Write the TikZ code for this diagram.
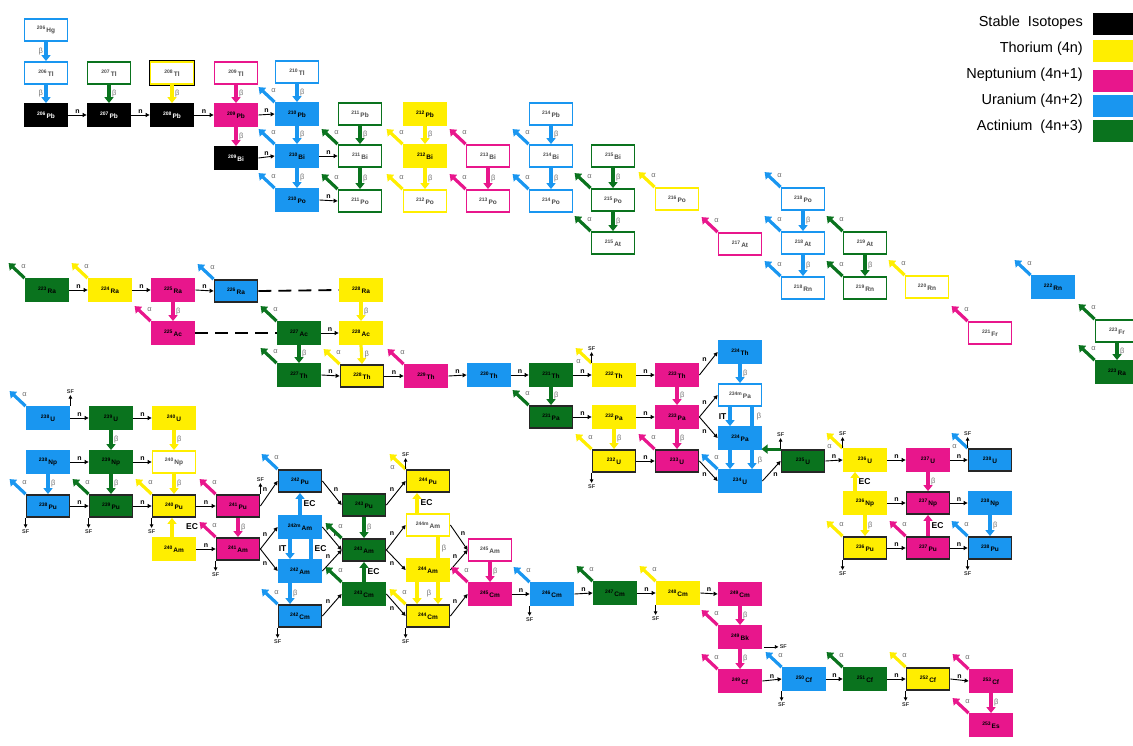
\documentclass[tikz,border=0pt]{standalone}
\usepackage{fontspec}
\setmainfont{Liberation Sans}
\usetikzlibrary{arrows.meta,calc}
\pgfdeclarelayer{bg}
\pgfsetlayers{bg,main}
\definecolor{thc}{RGB}{255,238,0}
\definecolor{npc}{RGB}{232,22,140}
\definecolor{ucc}{RGB}{25,150,240}
\definecolor{acc}{RGB}{10,115,30}
\newcommand{\iso}[2]{\raisebox{1.8pt}{\fontsize{5}{5}\selectfont#1}\,\raisebox{-1.6pt}{#2}}
\newcommand{\alf}[2]{\draw[dec,#2] (#1.north west) -- ++(-16,-15); \node[glab] at ($(#1.north west)+(-1,-12)$) {α};}
\newcommand{\alfb}[2]{\draw[dec,#2] (#1.north west) -- ++(-16,-15); \node[glab] at ($(#1.north west)+(-13,-2)$) {α};}
\newcommand{\sfu}[1]{\draw[sfar] (#1) -- ++(0,-11) node[above,sflab]{SF};}
\newcommand{\sfd}[1]{\draw[sfar] (#1) -- ++(0,10) node[below,sflab]{SF};}
\newcommand{\nn}[3][above]{\draw[narr] (#2) -- (#3) node[midway,#1,nlab]{n};}
\newcommand{\dk}[4][right]{\draw[dec,#2] (#3) -- (#4) node[midway,#1,glab]{β};}
\begin{document}
\begin{tikzpicture}[x=1pt,y=-1pt,
  box/.style={rectangle, minimum width=43pt, minimum height=22pt, inner sep=0pt, line width=1.8pt, font=\bfseries\fontsize{6.5}{7}\selectfont},
  stb/.style={box, fill=black, draw=black, text=white},
  fil/.style={box, fill=#1, draw=#1, text=black},
  otl/.style={box, fill=white, draw=#1, text=black!70},
  fkb/.style={box, fill=#1, draw=black!85, text=black},
  dec/.style={line width=3.2pt, -{Triangle[width=9pt,length=6pt]}},
  narr/.style={line width=0.9pt, black, -{Triangle[width=4pt,length=4pt]}},
  sfar/.style={line width=0.8pt, black, -{Triangle[width=3.5pt,length=3.5pt]}},
  glab/.style={text=black!55, font=\fontsize{7.5}{8}\selectfont, inner sep=1.5pt},
  nlab/.style={text=black, font=\bfseries\fontsize{7}{7}\selectfont, inner sep=1.5pt},
  sflab/.style={font=\bfseries\fontsize{5.5}{6}\selectfont, text=black!80, inner sep=1pt},
  eclab/.style={text=black, font=\bfseries\fontsize{8.5}{9}\selectfont, inner sep=2pt},
  leg/.style={font=\fontsize{14.5}{16}\selectfont, anchor=east, inner sep=0pt},
  sw/.style={minimum width=42pt, minimum height=22pt, inner sep=0pt, anchor=west}]
\useasboundingbox (0,0) rectangle (1133,746);
\clip (0,0) rectangle (1133,746);
% ---------- legend
\node[leg] (l1) at (1083,23) {Stable\ \ Isotopes};
\node[leg] (l2) at (1083,49) {Thorium (4n)};
\node[leg] (l3) at (1083,75) {Neptunium (4n+1)};
\node[leg] (l4) at (1083,101) {Uranium (4n+2)};
\node[leg] (l5) at (1083,127) {Actinium\ \ (4n+3)};
\node[sw, fill=black] (s1) at (1093,24) {};
\node[sw, fill=thc] (s2) at (1093,51) {};
\node[sw, fill=npc] (s3) at (1093,81) {};
\node[sw, fill=ucc] (s4) at (1093,106) {};
\node[sw, fill=acc] (s5) at (1093,131) {};
% ---------- top region nodes
\node[otl=ucc] (Hg206) at (46,30) {\iso{206}{Hg}};
\node[otl=ucc] (Tl206) at (46,73) {\iso{206}{Tl}};
\node[stb] (Pb206) at (46,115) {\iso{206}{Pb}};
\node[otl=acc] (Tl207) at (109,73) {\iso{207}{Tl}};
\node[stb] (Pb207) at (109,115) {\iso{207}{Pb}};
\node[otl=thc, preaction={draw=black, line width=3.4pt}] (Tl208) at (172,73) {\iso{208}{Tl}};
\node[stb] (Pb208) at (172,115) {\iso{208}{Pb}};
\node[otl=npc] (Tl209) at (236,73) {\iso{209}{Tl}};
\node[fil=npc] (Pb209) at (236,115) {\iso{209}{Pb}};
\node[stb] (Bi209) at (236,158) {\iso{209}{Bi}};
\node[otl=ucc] (Tl210) at (297,72) {\iso{210}{Tl}};
\node[fil=ucc] (Pb210) at (297,114) {\iso{210}{Pb}};
\node[fil=ucc] (Bi210) at (297,156) {\iso{210}{Bi}};
\node[fil=ucc] (Po210) at (297,200) {\iso{210}{Po}};
\node[otl=acc] (Pb211) at (360,114) {\iso{211}{Pb}};
\node[otl=acc] (Bi211) at (360,156) {\iso{211}{Bi}};
\node[otl=acc] (Po211) at (360,201) {\iso{211}{Po}};
\node[fil=thc] (Pb212) at (425,114) {\iso{212}{Pb}};
\node[fil=thc] (Bi212) at (425,156) {\iso{212}{Bi}};
\node[otl=thc] (Po212) at (425,201) {\iso{212}{Po}};
\node[otl=npc] (Bi213) at (488,156) {\iso{213}{Bi}};
\node[otl=npc] (Po213) at (488,201) {\iso{213}{Po}};
\node[otl=ucc] (Pb214) at (551,114) {\iso{214}{Pb}};
\node[otl=ucc] (Bi214) at (551,156) {\iso{214}{Bi}};
\node[otl=ucc] (Po214) at (551,201) {\iso{214}{Po}};
\node[otl=acc] (Bi215) at (613,156) {\iso{215}{Bi}};
\node[otl=acc] (Po215) at (613,200) {\iso{215}{Po}};
\node[otl=acc] (At215) at (613,243) {\iso{215}{At}};
\node[otl=thc] (Po216) at (677,199) {\iso{216}{Po}};
\node[otl=npc] (At217) at (740,244) {\iso{217}{At}};
\node[otl=ucc] (Po218) at (803,199) {\iso{218}{Po}};
\node[otl=ucc] (At218) at (803,243) {\iso{218}{At}};
\node[otl=ucc] (Rn218) at (803,288) {\iso{218}{Rn}};
\node[otl=acc] (At219) at (865,243) {\iso{219}{At}};
\node[otl=acc] (Rn219) at (865,288) {\iso{219}{Rn}};
\node[otl=thc] (Rn220) at (927,287) {\iso{220}{Rn}};
\node[otl=npc] (Fr221) at (990,333) {\iso{221}{Fr}};
\node[fil=ucc] (Rn222) at (1053,287) {\iso{222}{Rn}};
\node[otl=acc] (Fr223) at (1117,331) {\iso{223}{Fr}};
\node[fil=acc] (RaB223) at (1117,372) {\iso{223}{Ra}};
% ---------- middle nodes
\node[fil=acc] (RaA223) at (47,290) {\iso{223}{Ra}};
\node[fil=thc] (Ra224) at (110,290) {\iso{224}{Ra}};
\node[fil=npc] (Ra225) at (173,290) {\iso{225}{Ra}};
\node[fkb=ucc] (Ra226) at (236,291) {\iso{226}{Ra}};
\node[fil=npc] (Ac225) at (173,333) {\iso{225}{Ac}};
\node[fil=thc] (Ra228) at (361,290) {\iso{228}{Ra}};
\node[fil=acc] (Ac227) at (299,333) {\iso{227}{Ac}};
\node[fil=thc] (Ac228) at (361,333) {\iso{228}{Ac}};
\node[fil=acc] (Th227) at (299,375) {\iso{227}{Th}};
\node[fkb=thc] (Th228) at (362,376) {\iso{228}{Th}};
\node[fil=npc] (Th229) at (426,376) {\iso{229}{Th}};
\node[fil=ucc] (Th230) at (489,375) {\iso{230}{Th}};
\node[fil=acc] (Th231) at (551,375) {\iso{231}{Th}};
\node[fkb=acc] (Pa231) at (551,417) {\iso{231}{Pa}};
\node[fil=thc] (Th232) at (614,375) {\iso{232}{Th}};
\node[fil=thc] (Pa232) at (614,417) {\iso{232}{Pa}};
\node[fkb=thc] (U232) at (614,461) {\iso{232}{U}};
\node[fil=npc] (Th233) at (677,375) {\iso{233}{Th}};
\node[fil=npc] (Pa233) at (677,417) {\iso{233}{Pa}};
\node[fkb=npc] (U233) at (677,461) {\iso{233}{U}};
\node[fil=ucc] (Th234) at (740,352) {\iso{234}{Th}};
\node[otl=ucc] (Pa234m) at (740,395) {\iso{234m}{Pa}};
\node[fil=ucc] (Pa234) at (740,438) {\iso{234}{Pa}};
\node[fil=ucc] (U234) at (740,481) {\iso{234}{U}};
\node[fkb=acc] (U235) at (803,461) {\iso{235}{U}};
\node[fil=thc] (U236) at (865,460) {\iso{236}{U}};
\node[fil=npc] (U237) at (928,460) {\iso{237}{U}};
\node[fkb=ucc] (UB238) at (990,460) {\iso{238}{U}};
\node[fil=thc] (Np236) at (865,503) {\iso{236}{Np}};
\node[fkb=npc] (Np237) at (928,503) {\iso{237}{Np}};
\node[fil=ucc] (NpB238) at (990,503) {\iso{238}{Np}};
\node[fkb=thc] (Pu236) at (865,548) {\iso{236}{Pu}};
\node[fkb=npc] (Pu237) at (928,548) {\iso{237}{Pu}};
\node[fkb=ucc] (PuB238) at (990,548) {\iso{238}{Pu}};
% ---------- lower-left nodes
\node[fil=ucc] (UA238) at (48,418) {\iso{238}{U}};
\node[fil=acc] (U239) at (111,418) {\iso{239}{U}};
\node[fil=thc] (U240) at (174,418) {\iso{240}{U}};
\node[fil=ucc] (NpA238) at (48,462) {\iso{238}{Np}};
\node[fil=acc] (Np239) at (111,462) {\iso{239}{Np}};
\node[otl=thc] (Np240) at (174,462) {\iso{240}{Np}};
\node[fkb=ucc] (PuA238) at (48,506) {\iso{238}{Pu}};
\node[fkb=acc] (Pu239) at (111,506) {\iso{239}{Pu}};
\node[fkb=thc] (Pu240) at (174,506) {\iso{240}{Pu}};
\node[fkb=npc] (Pu241) at (238,506) {\iso{241}{Pu}};
\node[fil=thc] (Am240) at (174,549) {\iso{240}{Am}};
\node[fkb=npc] (Am241) at (238,549) {\iso{241}{Am}};
\node[fkb=ucc] (Pu242) at (300,481) {\iso{242}{Pu}};
\node[fil=ucc] (Am242m) at (300,527) {\iso{242m}{Am}};
\node[fil=ucc] (Am242) at (300,571) {\iso{242}{Am}};
\node[fkb=ucc] (Cm242) at (300,616) {\iso{242}{Cm}};
\node[fkb=acc] (Pu243) at (364,505) {\iso{243}{Pu}};
\node[fkb=acc] (Am243) at (364,550) {\iso{243}{Am}};
\node[fil=acc] (Cm243) at (364,594) {\iso{243}{Cm}};
\node[fkb=thc] (Pu244) at (428,481) {\iso{244}{Pu}};
\node[otl=thc] (Am244m) at (428,525) {\iso{244m}{Am}};
\node[fil=thc] (Am244) at (428,570) {\iso{244}{Am}};
\node[fkb=thc] (Cm244) at (428,616) {\iso{244}{Cm}};
\node[otl=npc] (Am245) at (490,550) {\iso{245}{Am}};
\node[fil=npc] (Cm245) at (490,594) {\iso{245}{Cm}};
\node[fil=ucc] (Cm246) at (552,594) {\iso{246}{Cm}};
\node[fil=acc] (Cm247) at (615,593) {\iso{247}{Cm}};
\node[fil=thc] (Cm248) at (678,593) {\iso{248}{Cm}};
\node[fil=npc] (Cm249) at (740,594) {\iso{249}{Cm}};
\node[fil=npc] (Bk249) at (740,637) {\iso{249}{Bk}};
\node[fil=npc] (Cf249) at (740,681) {\iso{249}{Cf}};
\node[fil=ucc] (Cf250) at (804,679) {\iso{250}{Cf}};
\node[fil=acc] (Cf251) at (865,679) {\iso{251}{Cf}};
\node[fkb=thc] (Cf252) at (928,679) {\iso{252}{Cf}};
\node[fil=npc] (Cf253) at (991,681) {\iso{253}{Cf}};
\node[fil=npc] (Es253) at (991,725) {\iso{253}{Es}};
% ---------- background lines (behind boxes)
\begin{pgfonlayer}{bg}
\draw[dec,ucc] ($(Pa234m.south)+(12,0)$) -- ($(U234.north)+(12,0)$);
\draw[dec,thc] ($(Am244m.south)+(10,0)$) -- ($(Cm244.north)+(10,0)$);
\end{pgfonlayer}
% ---------- top region connectors
\dk[left]{ucc}{Hg206.south}{Tl206.north}
\dk[left]{ucc}{Tl206.south}{Pb206.north}
\dk{acc}{Tl207.south}{Pb207.north}
\dk{thc}{Tl208.south}{Pb208.north}
\dk{npc}{Tl209.south}{Pb209.north}
\dk{npc}{Pb209.south}{Bi209.north}
\nn{Pb206.east}{Pb207.west}
\nn{Pb207.east}{Pb208.west}
\nn{Pb208.east}{Pb209.west}
\nn{Pb209.east}{Pb210.west}
\nn{Bi209.east}{Bi210.west}
\dk{ucc}{Tl210.south}{Pb210.north}
\dk{ucc}{Pb210.south}{Bi210.north}
\dk{ucc}{Bi210.south}{Po210.north}
\alf{Pb210}{ucc}\alf{Bi210}{ucc}\alf{Po210}{ucc}
\dk{acc}{Pb211.south}{Bi211.north}
\dk{acc}{Bi211.south}{Po211.north}
\nn{Bi210.east}{Bi211.west}
\nn{Po210.east}{Po211.west}
\alf{Bi211}{acc}\alf{Po211}{acc}
\dk{thc}{Pb212.south}{Bi212.north}
\dk{thc}{Bi212.south}{Po212.north}
\alf{Bi212}{thc}\alf{Po212}{thc}
\dk{npc}{Bi213.south}{Po213.north}
\alf{Bi213}{npc}\alf{Po213}{npc}
\dk{ucc}{Pb214.south}{Bi214.north}
\dk{ucc}{Bi214.south}{Po214.north}
\alf{Bi214}{ucc}\alf{Po214}{ucc}
\dk{acc}{Bi215.south}{Po215.north}
\dk{acc}{Po215.south}{At215.north}
\alf{Po215}{acc}\alf{At215}{acc}
\alf{Po216}{thc}
\alf{At217}{npc}
\dk{ucc}{Po218.south}{At218.north}
\dk{ucc}{At218.south}{Rn218.north}
\alf{Po218}{ucc}\alf{At218}{ucc}\alf{Rn218}{ucc}
\dk{acc}{At219.south}{Rn219.north}
\alf{At219}{acc}\alf{Rn219}{acc}
\alf{Rn220}{thc}
\alf{Fr221}{npc}
\alf{Rn222}{ucc}
\dk{acc}{Fr223.south}{RaB223.north}
\alf{Fr223}{acc}\alf{RaB223}{acc}
% ---------- middle connectors
\nn{RaA223.east}{Ra224.west}
\nn{Ra224.east}{Ra225.west}
\nn{Ra225.east}{Ra226.west}
\alf{RaA223}{acc}\alf{Ra224}{thc}\alf{Ra226}{ucc}\alf{Ac225}{npc}
\dk{npc}{Ra225.south}{Ac225.north}
\draw[line width=1.8pt, dash pattern=on 13pt off 7pt] (Ra226.east) -- (Ra228.west);
\draw[line width=1.8pt, dash pattern=on 13pt off 7pt] (Ac225.east) -- (Ac227.west);
\dk{thc}{Ra228.south}{Ac228.north}
\dk{thc}{Ac228.south}{Th228.north}
\nn{Ac227.east}{Ac228.west}
\dk{acc}{Ac227.south}{Th227.north}
\alf{Ac227}{acc}\alf{Th227}{acc}\alf{Th228}{thc}\alf{Th229}{npc}
\nn{Th227.east}{Th228.west}
\nn{Th228.east}{Th229.west}
\nn{Th229.east}{Th230.west}
\nn{Th230.east}{Th231.west}
\nn{Th231.east}{Th232.west}
\nn{Th232.east}{Th233.west}
\dk{acc}{Th231.south}{Pa231.north}
\alf{Pa231}{acc}
\nn{Pa231.east}{Pa232.west}
\nn{Pa232.east}{Pa233.west}
\nn{U232.east}{U233.west}
\dk{thc}{Pa232.south}{U232.north}
\alf{U232}{thc}\sfd{U232.south west}
\alfb{Th232}{thc}\sfu{Th232.north west}
\dk{npc}{Th233.south}{Pa233.north}
\dk{npc}{Pa233.south}{U233.north}
\alf{U233}{npc}
\nn[above left]{Th233.east}{Th234.west}
\nn[above left]{Pa233.east}{Pa234m.west}
\nn[below left]{Pa233.east}{Pa234.west}
\nn[below left]{U233.east}{U234.west}
\dk{ucc}{Th234.south}{Pa234m.north}
\draw[dec,ucc] ($(Pa234m.south)+(-10,0)$) -- ($(Pa234.north)+(-10,0)$) node[midway,left,eclab]{IT};
\draw[dec,ucc] ($(Pa234.south)+(-10,0)$) -- ($(U234.north)+(-10,0)$);
\node[glab] (b1) at ($(Pa234m.south)+(19,10)$) {β};
\node[glab] (b2) at ($(Pa234.south)+(20,11)$) {β};
\alf{U234}{ucc}
\nn[below right]{U234.east}{U235.west}
\draw[dec,acc] (U235.north west) -- ++(-19,0);
\sfu{U235.north west}
\nn{U235.east}{U236.west}
\nn{U236.east}{U237.west}
\nn{U237.east}{UB238.west}
\alfb{U236}{thc}\sfu{U236.north west}
\alfb{UB238}{ucc}\sfu{UB238.north west}
\dk{npc}{U237.south}{Np237.north}
\draw[dec,thc] ($(Np236.north)+(-10,0)$) -- ($(U236.south)+(-10,0)$) node[midway,right,eclab]{EC};
\nn{Np236.east}{Np237.west}
\nn{Np237.east}{NpB238.west}
\dk{thc}{Np236.south}{Pu236.north}
\dk{ucc}{NpB238.south}{PuB238.north}
\draw[dec,npc] (Pu237.north) -- (Np237.south) node[midway,right,eclab]{EC};
\nn{Pu236.east}{Pu237.west}
\nn{Pu237.east}{PuB238.west}
\alf{Pu236}{thc}\sfd{Pu236.south west}
\alf{Pu237}{npc}
\alf{PuB238}{ucc}\sfd{PuB238.south west}
% ---------- lower-left connectors
\alf{UA238}{ucc}\sfu{UA238.north east}
\nn{UA238.east}{U239.west}
\nn{U239.east}{U240.west}
\dk{acc}{U239.south}{Np239.north}
\dk{thc}{U240.south}{Np240.north}
\nn{NpA238.east}{Np239.west}
\nn{Np239.east}{Np240.west}
\dk{ucc}{NpA238.south}{PuA238.north}
\dk{acc}{Np239.south}{Pu239.north}
\dk{thc}{Np240.south}{Pu240.north}
\nn{PuA238.east}{Pu239.west}
\nn{Pu239.east}{Pu240.west}
\nn{Pu240.east}{Pu241.west}
\alf{PuA238}{ucc}\alf{Pu239}{acc}\alf{Pu240}{thc}\alf{Pu241}{npc}
\sfd{PuA238.south west}\sfd{Pu239.south west}\sfd{Pu240.south west}
\sfu{Pu241.north east}
\draw[dec,thc] ($(Am240.north)+(-2,0)$) -- ($(Pu240.south)+(-2,0)$);
\node[eclab] (ec1) at (192,527) {EC};
\dk{npc}{Pu241.south}{Am241.north}
\nn{Am240.east}{Am241.west}
\alf{Am241}{npc}\sfd{Am241.south west}
\nn[above left]{Pu241.east}{Pu242.west}
\nn[above left]{Am241.east}{Am242m.west}
\nn[below left]{Am241.east}{Am242.west}
\alf{Pu242}{ucc}
\draw[dec,ucc] (Am242m.north) -- (Pu242.south) node[midway,right,eclab]{EC};
\draw[dec,ucc] ($(Am242m.south)+(-10,0)$) -- ($(Am242.north)+(-10,0)$) node[midway,left,eclab]{IT};
\draw[line width=3.2pt,ucc] ($(Am242.north)+(11,0)$) -- ($(Am242m.south)+(11,0)$) node[midway,right,eclab]{EC};
\dk{ucc}{$(Am242.south)+(-10,0)$}{$(Cm242.north)+(-10,0)$}
\alf{Cm242}{ucc}\sfd{Cm242.south west}
\nn[above right]{Pu242.east}{Pu243.west}
\nn[above right]{Am242m.east}{Am243.west}
\nn[above left]{Am242.east}{Am243.west}
\nn[above left]{Cm242.east}{Cm243.west}
\dk{acc}{Pu243.south}{Am243.north}
\draw[dec,acc] (Cm243.north) -- (Am243.south) node[midway,right,eclab]{EC};
\alf{Am243}{acc}\alf{Cm243}{acc}
\nn[above left]{Pu243.east}{Pu244.west}
\nn[above left]{Am243.east}{Am244m.west}
\nn[below left]{Am243.east}{Am244.west}
\nn[below left]{Cm243.east}{Cm244.west}
\alfb{Pu244}{thc}\sfu{Pu244.north west}
\draw[dec,thc] ($(Am244m.north)+(-11,0)$) -- ($(Pu244.south)+(-11,0)$) node[midway,right,eclab]{EC};
\draw[dec,thc] ($(Am244.south)+(-11,0)$) -- ($(Cm244.north)+(-11,0)$);
\node[glab] (b3) at ($(Am244m.south)+(16,12)$) {β};
\node[glab] (b4) at ($(Am244.south)+(1,12)$) {β};
\alf{Cm244}{thc}\sfd{Cm244.south west}
\nn[above right]{Am244m.east}{Am245.west}
\nn[above left]{Am244.east}{Am245.west}
\nn[above left]{Cm244.east}{Cm245.west}
\dk{npc}{Am245.south}{Cm245.north}
\alf{Cm245}{npc}
\nn{Cm245.east}{Cm246.west}
\alf{Cm246}{ucc}\sfd{Cm246.south west}
\nn{Cm246.east}{Cm247.west}
\alf{Cm247}{acc}
\nn{Cm247.east}{Cm248.west}
\alf{Cm248}{thc}\sfd{Cm248.south west}
\nn{Cm248.east}{Cm249.west}
\dk{npc}{Cm249.south}{Bk249.north}
\alf{Bk249}{npc}
\draw[sfar] ($(Bk249.south east)+(2,-2)$) -- ++(14,0) node[right,sflab]{SF};
\dk{npc}{Bk249.south}{Cf249.north}
\alf{Cf249}{npc}
\nn{Cf249.east}{Cf250.west}
\alf{Cf250}{ucc}\sfd{Cf250.south west}
\nn{Cf250.east}{Cf251.west}
\alf{Cf251}{acc}
\nn{Cf251.east}{Cf252.west}
\alf{Cf252}{thc}\sfd{Cf252.south west}
\nn{Cf252.east}{Cf253.west}
\alf{Cf253}{npc}
\dk{npc}{Cf253.south}{Es253.north}
\alf{Es253}{npc}
\end{tikzpicture}
\end{document}
